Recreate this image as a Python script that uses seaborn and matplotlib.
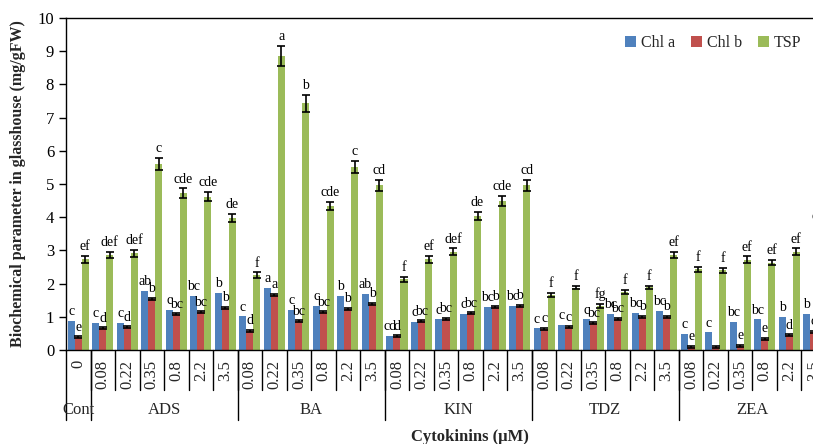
import matplotlib
matplotlib.use("Agg")
import matplotlib.pyplot as plt
import seaborn as sns
import pandas as pd
import numpy as np

# Treatments: cytokinin type and dose (µM)
groups = ["Cont"] + ["ADS"] * 6 + ["BA"] * 6 + ["KIN"] * 6 + ["TDZ"] * 6 + ["ZEA"] * 6
doses = ["0"] + ["0.08", "0.22", "0.35", "0.8", "2.2", "3.5"] * 5
group_names = ["Cont", "ADS", "BA", "KIN", "TDZ", "ZEA"]

# Biochemical parameters (mg/gFW)
chl_a = [0.88,
         0.82, 0.82, 1.78, 1.21, 1.62, 1.72,
         1.01, 1.88, 1.20, 1.33, 1.62, 1.68,
         0.42, 0.84, 0.92, 1.09, 1.31, 1.33,
         0.65, 0.75, 0.92, 1.08, 1.12, 1.18,
         0.48, 0.53, 0.85, 0.92, 1.00, 1.08]
chl_b = [0.38,
         0.65, 0.68, 1.54, 1.07, 1.13, 1.27,
         0.57, 1.67, 0.86, 1.13, 1.23, 1.39,
         0.41, 0.86, 0.94, 1.10, 1.31, 1.33,
         0.63, 0.68, 0.80, 0.93, 1.00, 1.00,
         0.10, 0.10, 0.13, 0.33, 0.44, 0.55]
tsp = [2.73,
       2.86, 2.91, 5.60, 4.72, 4.62, 3.97,
       2.26, 8.86, 7.43, 4.34, 5.52, 4.96,
       2.13, 2.73, 2.96, 4.04, 4.49, 4.96,
       1.66, 1.88, 1.33, 1.76, 1.89, 2.86,
       2.43, 2.40, 2.72, 2.63, 2.96, 3.65]

# Standard errors
chl_b_err = [0.03] * 31
tsp_err = [0.10,
           0.10, 0.10, 0.19, 0.15, 0.14, 0.12,
           0.08, 0.31, 0.26, 0.13, 0.18, 0.16,
           0.07, 0.10, 0.10, 0.13, 0.16, 0.17,
           0.05, 0.05, 0.05, 0.06, 0.05, 0.10,
           0.08, 0.07, 0.10, 0.08, 0.10, 0.10]

# Duncan letters
chl_a_let = ["c",
             "c", "c", "ab", "c", "bc", "b",
             "c", "a", "c", "c", "b", "ab",
             "cd", "c", "c", "c", "bc", "bc",
             "c", "c", "c", "bc", "bc", "bc",
             "c", "c", "bc", "bc", "b", "b"]
chl_b_let = ["e",
             "d", "d", "b", "bc", "bc", "b",
             "d", "a", "bc", "bc", "b", "b",
             "d", "bc", "bc", "bc", "b", "b",
             "c", "c", "bc", "bc", "b", "b",
             "e", "", "e", "e", "d", "c"]
tsp_let = ["ef",
           "def", "def", "c", "cde", "cde", "de",
           "f", "a", "b", "cde", "c", "cd",
           "f", "ef", "def", "de", "cde", "cd",
           "f", "f", "fg", "f", "f", "ef",
           "f", "f", "ef", "ef", "ef", "cde"]

series = ["Chl a", "Chl b", "TSP"]
colors = ["#4F81BD", "#C0504D", "#9BBB59"]

keys = [f"{g} {d}" for g, d in zip(groups, doses)]
df = pd.DataFrame({
    "treat": keys * 3,
    "param": ["Chl a"] * 31 + ["Chl b"] * 31 + ["TSP"] * 31,
    "value": chl_a + chl_b + tsp,
})

sns.set_theme(style="white")
plt.rcParams["font.family"] = ["Liberation Serif", "DejaVu Serif"]

fig = plt.figure(figsize=(8.13, 4.44), dpi=100)
ax = fig.add_axes([66 / 813, 94 / 444, 760 / 813, 332 / 444])

sns.barplot(data=df, x="treat", y="value", hue="param", order=keys,
            hue_order=series, palette=colors, errorbar=None, width=0.86,
            saturation=1, ax=ax, linewidth=0)

errs = [None, chl_b_err, tsp_err]
lets = [chl_a_let, chl_b_let, tsp_let]
vals = [chl_a, chl_b, tsp]
for cont, err, let, val in zip(ax.containers, errs, lets, vals):
    xs = [p.get_x() + p.get_width() / 2 for p in cont.patches]
    tops = list(val)
    if err is not None:
        ax.errorbar(xs, val, yerr=err, fmt="none", ecolor="black",
                    elinewidth=1.2, capsize=3, capthick=1.2, zorder=4)
        tops = [v + e for v, e in zip(val, err)]
    for x, t, s in zip(xs, tops, let):
        if s:
            ax.annotate(s, (x, t), xytext=(0, 2), textcoords="offset points",
                        ha="center", va="bottom", fontsize=10, color="black",
                        annotation_clip=False)

ax.set_ylim(0, 10)
ax.set_xlim(-0.5, 30.5)
ax.set_yticks(range(0, 11))
ax.tick_params(axis="y", which="both", left=True, length=5, width=1,
               direction="out", labelsize=12, colors="black")
ax.set_xticks([])
ax.set_xlabel("")
ax.set_ylabel("Biochemical parameter in glasshouse (mg/gFW)",
              fontsize=11.5, fontweight="bold", labelpad=8)
for side in ["left", "bottom", "top", "right"]:
    ax.spines[side].set_visible(True)
    ax.spines[side].set_color("black")
    ax.spines[side].set_linewidth(1)

# Two-level category axis below the plot
tr = ax.get_xaxis_transform()
short_y = -40 / 332
long_y = -70 / 332
for i in range(31):
    ax.text(i, -10 / 332, doses[i], transform=tr, rotation=90, ha="center",
            va="top", fontsize=12)
for b in np.arange(0.5, 30.5, 1.0):
    ax.plot([b, b], [0, short_y], transform=tr, color="black", lw=1,
            clip_on=False)
bounds = [-0.5, 0.5, 6.5, 12.5, 18.5, 24.5, 30.5]
for b in bounds:
    ax.plot([b, b], [0, long_y], transform=tr, color="black", lw=1,
            clip_on=False)
for name, lo, hi in zip(group_names, bounds[:-1], bounds[1:]):
    ax.text((lo + hi) / 2, -60 / 332, name, transform=tr, ha="center",
            va="center", fontsize=12)

fig.text(470 / 813, 1 - 437 / 444, "Cytokinins (µM)", ha="center",
         va="center", fontsize=12, fontweight="bold")

handles, labels = ax.get_legend_handles_labels()
ax.legend(handles, labels, loc="center", bbox_to_anchor=(713 / 813, 1 - 43 / 444),
          bbox_transform=fig.transFigure, ncol=3, frameon=False, fontsize=11.5,
          handlelength=0.7, handleheight=0.7, handletextpad=0.3,
          columnspacing=1.0)

fig.savefig("out.png", dpi=100)
